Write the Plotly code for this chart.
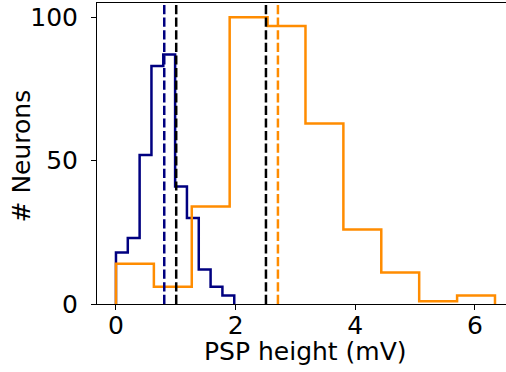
import numpy as np
import plotly.graph_objects as go

# Histogram data (counts per bin)
blue_range = [0.0, 1.977]
blue_counts = [18, 23, 52, 83, 87, 41, 30, 12, 6, 3]
orange_range = [0.0, 6.335]
orange_counts = [14, 6, 34, 100, 97, 63, 26, 11, 1, 3]

# Vertical dashed reference lines (x positions, colors)
vline_x = [0.807, 1.007, 2.507, 2.707]
vline_colors = ["#000080", "black", "black", "#ff8c00"]

x_ticks = [0, 2, 4, 6]
y_ticks = [0, 50, 100]
x_label = "PSP height (mV)"
y_label = "# Neurons"

FONT = "DejaVu Sans"
FS = 25


def step_xy(rng, counts):
    edges = np.linspace(rng[0], rng[1], len(counts) + 1)
    xs = [edges[0]]
    ys = [0]
    for i, c in enumerate(counts):
        xs += [edges[i], edges[i + 1]]
        ys += [c, c]
    xs.append(edges[-1])
    ys.append(0)
    return xs, ys


fig = go.Figure()
for rng, counts, col in [(blue_range, blue_counts, "#000080"),
                         (orange_range, orange_counts, "#ff8c00")]:
    xs, ys = step_xy(rng, counts)
    fig.add_trace(go.Scatter(x=xs, y=ys, mode="lines",
                             line=dict(color=col, width=2.5),
                             hoverinfo="skip", showlegend=False))

for xv, col in zip(vline_x, vline_colors):
    fig.add_shape(type="line", xref="x", yref="paper", x0=xv, x1=xv, y0=0, y1=1,
                  line=dict(color=col, width=2.5, dash="9.2px,3.4px"), layer="above")

L, R, T, B = 97, 0, 3, 68
W, H = 506, 372
fig.update_layout(
    width=W, height=H,
    margin=dict(l=L, r=R, t=T, b=B),
    paper_bgcolor="white", plot_bgcolor="white",
    font=dict(family=FONT, size=FS, color="black"),
    xaxis=dict(range=[-0.317, -0.317 + (W - L - R) / 59.83],
               tickvals=x_ticks, ticks="outside", ticklen=5, tickwidth=1,
               tickcolor="black", showline=True, linecolor="black", linewidth=1,
               mirror=True, showgrid=False, zeroline=False,
               tickfont=dict(family=FONT, size=FS, color="black"),
               ticklabelstandoff=-6),
    yaxis=dict(range=[0, 105], tickvals=y_ticks, ticks="outside", ticklen=5,
               tickwidth=1, tickcolor="black", showline=True, linecolor="black",
               linewidth=1, showgrid=False, zeroline=False,
               tickfont=dict(family=FONT, size=FS, color="black"),
               ticklabelstandoff=8),
    annotations=[
        dict(text=x_label, xref="paper", yref="paper",
             x=(305 - L) / (W - L - R), y=-(351 - (H - B)) / (H - T - B),
             xanchor="center", yanchor="middle", showarrow=False,
             font=dict(family=FONT, size=FS, color="black")),
        dict(text=y_label, xref="paper", yref="paper", textangle=-90,
             x=-(L - 22) / (W - L - R), y=0.49,
             xanchor="center", yanchor="middle", showarrow=False,
             font=dict(family=FONT, size=FS, color="black")),
    ],
)

fig.write_html("out.html")
